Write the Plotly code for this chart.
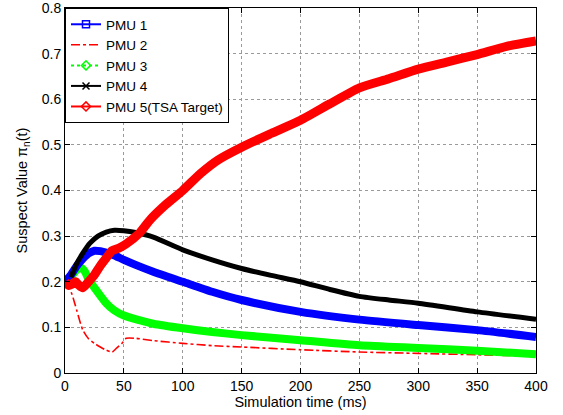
import plotly.graph_objects as go

t1 = [0, 5, 10, 15, 20, 25, 30, 40, 50, 60, 75, 100, 125, 150, 200, 250, 300, 350, 400]
pmu1 = [0.20, 0.215, 0.235, 0.25, 0.262, 0.268, 0.267, 0.26, 0.248, 0.237, 0.222, 0.20, 0.178, 0.16, 0.134, 0.117, 0.105, 0.094, 0.079]

t2 = [0, 3, 6, 10, 15, 20, 25, 30, 35, 40, 44, 48, 52, 60, 75, 100, 125, 150, 200, 250, 300, 350, 400]
pmu2 = [0.20, 0.19, 0.172, 0.137, 0.095, 0.075, 0.065, 0.057, 0.05, 0.046, 0.055, 0.064, 0.076, 0.076, 0.071, 0.065, 0.06, 0.057, 0.051, 0.046, 0.043, 0.040, 0.037]

t3 = [0, 5, 10, 13, 17, 20, 27, 35, 42, 50, 63, 75, 100, 125, 150, 200, 250, 300, 350, 400]
pmu3 = [0.20, 0.212, 0.226, 0.232, 0.222, 0.205, 0.18, 0.153, 0.137, 0.126, 0.116, 0.108, 0.098, 0.09, 0.083, 0.072, 0.061, 0.055, 0.049, 0.041]

t4 = [5, 10, 15, 21, 28, 35, 42, 50, 60, 75, 100, 125, 150, 175, 200, 225, 250, 275, 300, 350, 400]
pmu4 = [0.21, 0.24, 0.262, 0.284, 0.3, 0.309, 0.313, 0.312, 0.308, 0.298, 0.27, 0.248, 0.229, 0.214, 0.2, 0.183, 0.168, 0.16, 0.153, 0.134, 0.118]

t5 = [0, 3, 6, 9, 12, 15, 20, 25, 30, 35, 40, 46, 52, 63, 72, 86, 100, 115, 130, 150, 175, 200, 225, 250, 275, 300, 325, 350, 375, 400]
pmu5 = [0.20, 0.192, 0.195, 0.20, 0.192, 0.187, 0.20, 0.215, 0.235, 0.252, 0.268, 0.274, 0.283, 0.306, 0.335, 0.37, 0.40, 0.437, 0.467, 0.495, 0.525, 0.554, 0.59, 0.625, 0.645, 0.666, 0.682, 0.698, 0.716, 0.728]

names = ["PMU 1", "PMU 2", "PMU 3", "PMU 4", "PMU 5(TSA Target)"]

x_ticks = [0, 50, 100, 150, 200, 250, 300, 350, 400]
y_ticks = [0, 0.1, 0.2, 0.3, 0.4, 0.5, 0.6, 0.7, 0.8]

fig = go.Figure()

sp = dict(shape="spline", smoothing=0.6)
fig.add_trace(go.Scatter(x=t2, y=pmu2, mode="lines", line=dict(color="red", width=1.6, dash="dashdot", **sp), showlegend=False))
fig.add_trace(go.Scatter(x=t3, y=pmu3, mode="lines", line=dict(color="#00ff00", width=8, **sp), showlegend=False))
fig.add_trace(go.Scatter(x=t1, y=pmu1, mode="lines", line=dict(color="blue", width=8, **sp), showlegend=False))
fig.add_trace(go.Scatter(x=t4, y=pmu4, mode="lines", line=dict(color="black", width=5, **sp), showlegend=False))
fig.add_trace(go.Scatter(x=t5, y=pmu5, mode="lines", line=dict(color="red", width=9, **sp), showlegend=False))

leg = [
    dict(color="blue", dash="solid", symbol="square-open", width=2),
    dict(color="red", dash="dashdot", symbol=None, width=1.5),
    dict(color="#00ff00", dash="dot", symbol="diamond-open", width=2),
    dict(color="black", dash="solid", symbol="x-thin-open", width=2),
    dict(color="red", dash="solid", symbol="diamond-open", width=2),
]
for n, s in zip(names, leg):
    mk = dict(symbol=s["symbol"], size=7, color=s["color"], line=dict(color=s["color"], width=1.5)) if s["symbol"] else None
    fig.add_trace(go.Scatter(x=[None], y=[None], name=n,
                             mode="lines+markers" if mk else "lines",
                             line=dict(color=s["color"], width=s["width"], dash=s["dash"]),
                             marker=mk))

axis_common = dict(showline=True, linecolor="black", linewidth=1, mirror="ticks",
                   ticks="inside", ticklen=5, tickcolor="black", automargin=False,
                   ticklabeloverflow="allow",
                   showgrid=True, gridcolor="#9a9a9a", griddash="dot", gridwidth=1,
                   zeroline=False, tickfont=dict(size=14, color="black", family="Liberation Sans"))

fig.update_layout(
    width=563, height=415,
    margin=dict(l=65, r=27, t=8, b=42),
    paper_bgcolor="white", plot_bgcolor="white",
    font=dict(family="Liberation Sans", size=14, color="black"),
    xaxis=dict(range=[0, 400], tickvals=x_ticks, ticktext=[str(v) for v in x_ticks],
               title=dict(text="Simulation time (ms)", standoff=1, font=dict(size=14.5)), **axis_common),
    yaxis=dict(range=[0, 0.8], tickvals=y_ticks, ticktext=["0"] + [f"{v:.1f}" for v in y_ticks[1:]],
               title=dict(text="Suspect Value π<sub>n</sub>(t)", standoff=10, font=dict(size=14.5)), **axis_common),
    legend=dict(x=0, y=1, xanchor="left", yanchor="top", bgcolor="white",
                bordercolor="black", borderwidth=1, font=dict(size=13.5),
                tracegroupgap=0, itemwidth=30),
    showlegend=True,
)

fig.write_html("out.html", config={"displayModeBar": False},
               post_script="document.body.style.margin='0';document.body.style.overflow='hidden';")
